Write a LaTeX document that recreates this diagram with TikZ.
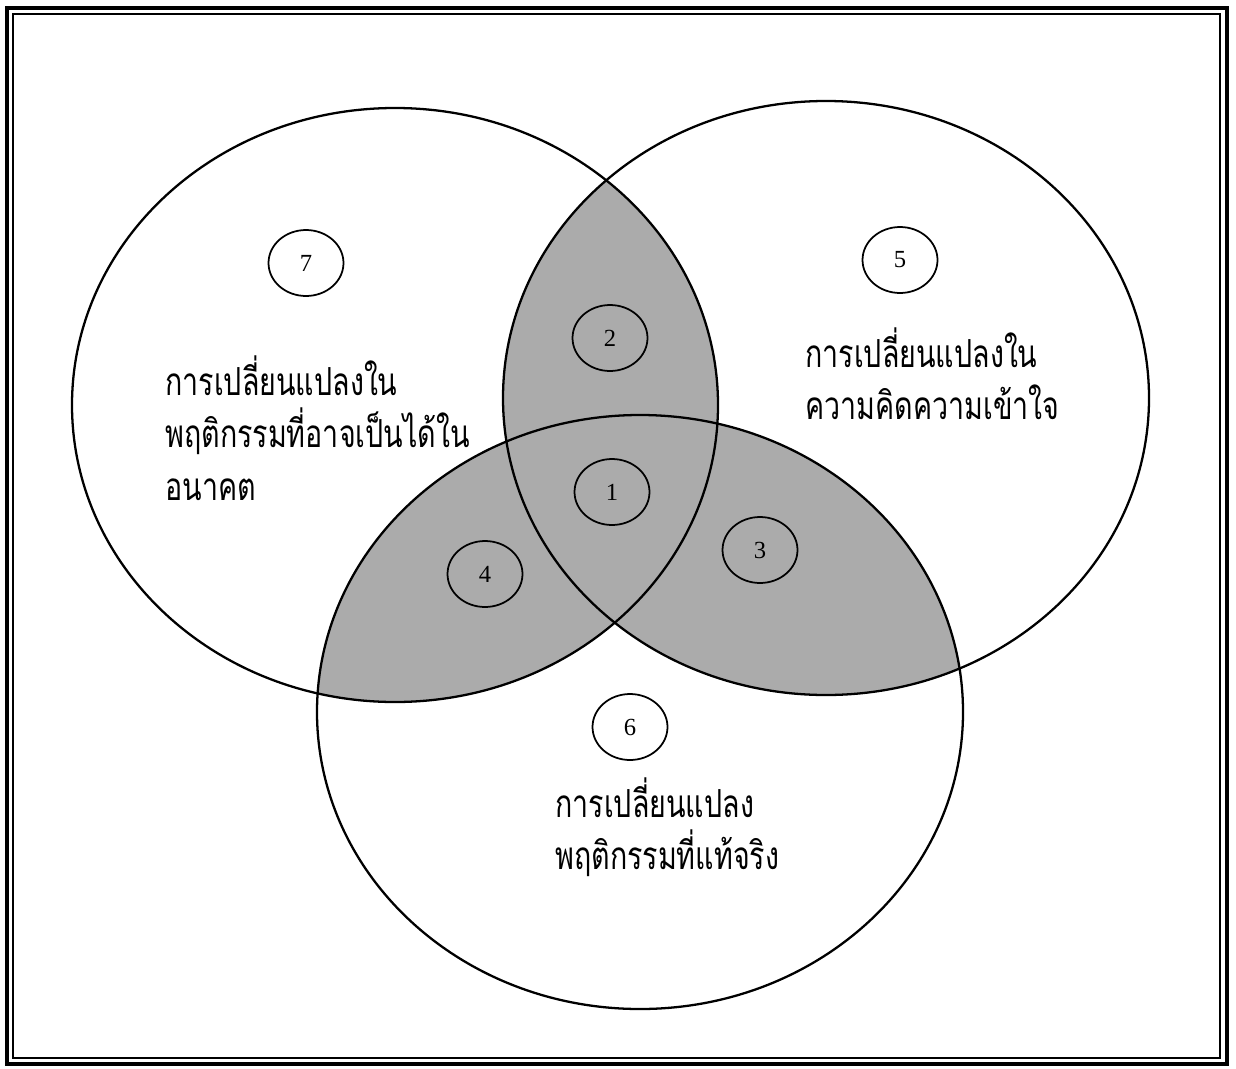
\documentclass[tikz,border=0pt]{standalone}
\usepackage{fontspec}
\setmainfont{Liberation Serif}
\newfontfamily\thaifont[Script=Thai,FakeStretch=0.74]{Loma}
\usetikzlibrary{shapes.geometric,positioning}

\begin{document}
\begin{tikzpicture}[
		x=0.02cm, y=-0.02cm,
		setsize/.style={x radius=323, y radius=297},
		setline/.style={line width=1.3pt},
		overlap/.style={fill=black!33},
		numcirc/.style={
			draw,
			ellipse,
			line width=1pt,
			minimum width=1.5cm,
			minimum height=1.32cm,
			inner sep=0pt,
			font=\fontsize{14}{14}\selectfont
		},
		thaitext/.style={
			anchor=north west,
			align=left,
			inner sep=0pt,
			font=\thaifont\fontsize{22}{30}\selectfont
		}
		]
		
		\useasboundingbox (0,0) rectangle (1236,1068);
		
		% centres of the three sets
		\coordinate (future) at (395,405);
		\coordinate (think) at (826,398);
		\coordinate (real) at (640,712);
		
		% shaded overlaps
		\begin{scope}
			\clip (future) ellipse [setsize];
			\fill[overlap] (think) ellipse [setsize];
			\fill[overlap] (real) ellipse [setsize];
		\end{scope}
		\begin{scope}
			\clip (think) ellipse [setsize];
			\fill[overlap] (real) ellipse [setsize];
		\end{scope}
		
		\draw[setline] (future) ellipse [setsize];
		\draw[setline] (think) ellipse [setsize];
		\draw[setline] (real) ellipse [setsize];
		
		% frame
		\draw[line width=1.8pt] (7,8) rectangle (1227,1064);
		\draw[line width=0.9pt] (13,14) rectangle (1220,1058);
		
		\node[numcirc] (n7) at (306,263) {7};
		\node[numcirc] (n5) at (900,260) {5};
		\node[numcirc] (n2) at (610,338) {2};
		\node[numcirc] (n1) at (612,492) {1};
		\node[numcirc] (n4) at (485,574) {4};
		\node[numcirc] (n3) at (760,550) {3};
		\node[numcirc] (n6) at (630,727) {6};
		
		\node[thaitext] (t7) at (165,355) {การเปลี่ยนแปลงใน\\พฤติกรรมที่อาจเป็นได้ใน\\อนาคต};
		\node[thaitext] (t5) at (805,327) {การเปลี่ยนแปลงใน\\ความคิดความเข้าใจ};
		\node[thaitext] (t6) at (555,777) {การเปลี่ยนแปลง\\พฤติกรรมที่แท้จริง};
		
	\end{tikzpicture}
\end{document}
